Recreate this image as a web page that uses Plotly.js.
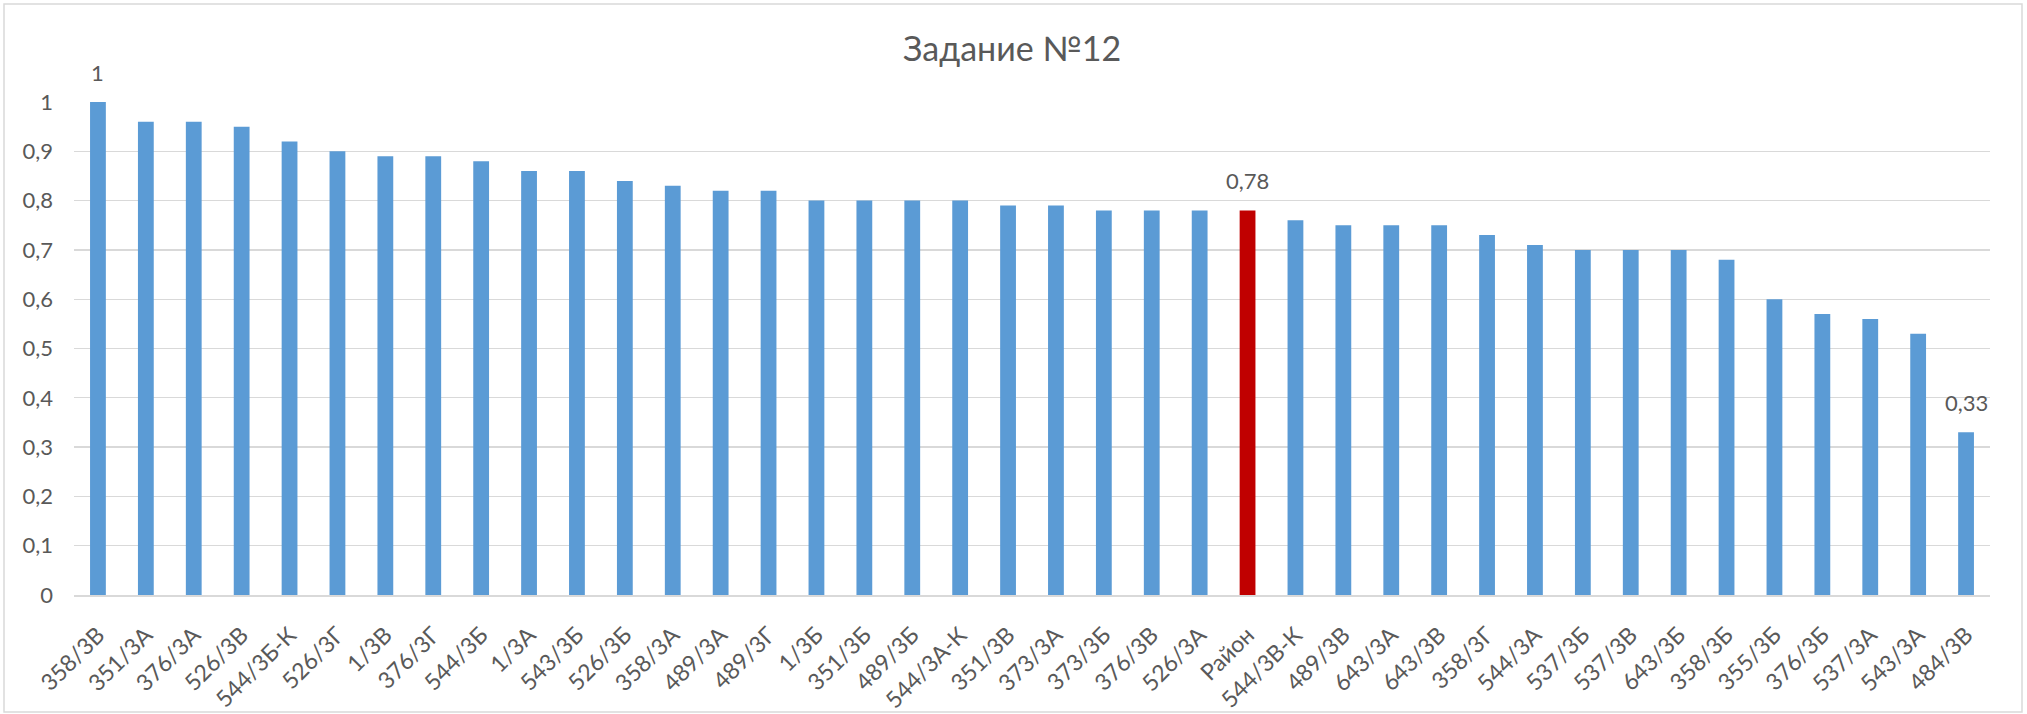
<!DOCTYPE html>
<html>
<head>
<meta charset="utf-8">
<script src="https://cdn.plot.ly/plotly-3.0.1.min.js"></script>
<style>
html,body{margin:0;padding:0;background:#fff;}
#chart{width:2027px;height:714px;}
</style>
</head>
<body>
<div id="chart"></div>
<script>
const categories = ['358/3В','351/3А','376/3А','526/3В','544/3Б-К','526/3Г','1/3В','376/3Г','544/3Б','1/3А',
  '543/3Б','526/3Б','358/3А','489/3А','489/3Г','1/3Б','351/3Б','489/3Б','544/3А-К','351/3В',
  '373/3А','373/3Б','376/3В','526/3А','Район','544/3В-К','489/3В','643/3А','643/3В','358/3Г',
  '544/3А','537/3Б','537/3В','643/3Б','358/3Б','355/3Б','376/3Б','537/3А','543/3А','484/3В'];
const values = [1,0.96,0.96,0.95,0.92,0.90,0.89,0.89,0.88,0.86,
  0.86,0.84,0.83,0.82,0.82,0.80,0.80,0.80,0.80,0.79,
  0.79,0.78,0.78,0.78,0.78,0.76,0.75,0.75,0.75,0.73,
  0.71,0.70,0.70,0.70,0.68,0.60,0.57,0.56,0.53,0.33];
const highlighted = ['Район'];
const labeled = ['358/3В','Район','484/3В'];
const yTicks = [0,0.1,0.2,0.3,0.4,0.5,0.6,0.7,0.8,0.9,1];
const titleText = 'Задание №12';

const BLUE = '#5B9BD5', RED = '#C00000', TXT = '#595959', GRID = '#D9D9D9';
const FONT = 'Lato, "Liberation Sans", sans-serif';

const colors = categories.map(c => highlighted.includes(c) ? RED : BLUE);

const trace = {
  type: 'bar',
  x: categories,
  y: values,
  marker: {color: colors},
  hoverinfo: 'x+y'
};

const annotations = labeled.map(c => {
  const v = values[categories.indexOf(c)];
  return {
    x: c, y: v, xref: 'x', yref: 'y',
    text: String(v).replace('.', ','),
    showarrow: false, yanchor: 'bottom', yshift: 14,
    font: {family: FONT, size: 22, color: TXT}
  };
});

const layout = {
  width: 2027, height: 714,
  paper_bgcolor: '#fff', plot_bgcolor: '#fff',
  separators: ', ',
  margin: {l: 74, r: 37, t: 102, b: 119, pad: 0},
  bargap: 0.67,
  showlegend: false,
  font: {family: FONT, color: TXT},
  title: {
    text: titleText,
    font: {family: FONT, size: 34, color: TXT},
    xref: 'container', x: 0.4993, xanchor: 'center',
    yref: 'container', y: 0.931, yanchor: 'middle'
  },
  xaxis: {
    type: 'category',
    tickangle: -45,
    tickfont: {family: FONT, size: 23, color: TXT},
    showgrid: false,
    showline: true, linecolor: GRID, linewidth: 1.5,
    ticks: '', ticklabelstandoff: 16,
    fixedrange: true
  },
  yaxis: {
    range: [0, 1],
    tickvals: yTicks,
    tickformat: '.1~f',
    tickfont: {family: FONT, size: 22, color: TXT},
    showgrid: true, gridcolor: GRID, gridwidth: 1.3,
    zeroline: false, showline: false,
    ticks: '', ticklabelstandoff: 20,
    fixedrange: true
  },
  annotations: annotations,
  shapes: [{
    type: 'rect', xref: 'paper', yref: 'paper',
    x0: -0.03653, x1: 1.0167, y0: -0.2373, y1: 1.1988,
    line: {color: GRID, width: 1.5}, fillcolor: 'rgba(0,0,0,0)', layer: 'below'
  }]
};

Plotly.newPlot('chart', [trace], layout, {displayModeBar: false, staticPlot: true});
</script>
</body>
</html>
